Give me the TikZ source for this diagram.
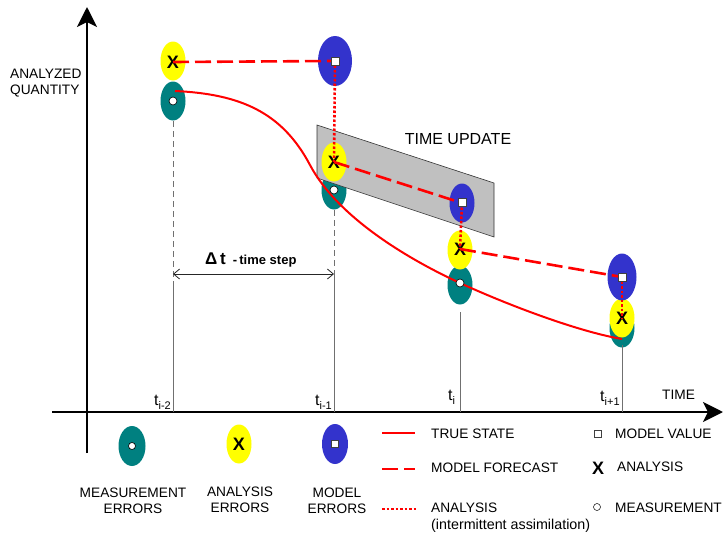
\documentclass[tikz,border=0pt]{standalone}
\usepackage{fontspec}
\setmainfont{Liberation Sans}
\usetikzlibrary{arrows.meta,shapes.geometric}
\definecolor{measteal}{HTML}{008080}
\definecolor{anayellow}{HTML}{FFFF00}
\definecolor{modblue}{HTML}{3333CC}
\definecolor{updgray}{HTML}{C0C0C0}
\definecolor{tickgray}{HTML}{707070}
\begin{document}
\begin{tikzpicture}[x=1pt,y=-1pt,
  every node/.style={inner sep=0pt, font=\fontsize{13.5}{16}\selectfont},
  errell/.style={ellipse, minimum width=25pt, minimum height=39pt, inner sep=0pt},
  measell/.style={errell, fill=measteal},
  anaell/.style={errell, fill=anayellow},
  modell/.style={errell, fill=modblue},
  measdot/.style={circle, draw=black, fill=white, line width=0.6pt, minimum size=8pt},
  modsq/.style={rectangle, draw=black!75, fill=white, line width=0.6pt, minimum size=8pt},
  xmark/.style={font=\fontsize{18}{18}\selectfont\bfseries},
  truestate/.style={red, line width=2pt},
  forecast/.style={red, line width=2.6pt, dash pattern=on 16pt off 6pt},
  assim/.style={red, line width=2.6pt, dash pattern=on 2.5pt off 2pt},
  tickline/.style={tickgray, line width=1pt},
  tickdash/.style={tickline, dash pattern=on 6pt off 4pt},
  axis/.style={black, line width=2.6pt, -{Stealth[length=20pt, width=20pt, inset=5pt]}},
  ticklbl/.style={font=\fontsize{16}{18}\selectfont},
  lbl/.style={font=\fontsize{13.7}{16}\selectfont, text=black}
]
\useasboundingbox (0,0) rectangle (724,533);

% axes
\coordinate (ybot) at (87,453);
\coordinate (ytop) at (87,7);
\coordinate (xleft) at (52,412);
\coordinate (xright) at (723,412);
\draw[axis] (ybot) -- (ytop);
\draw[axis] (xleft) -- (xright);
\node[lbl, anchor=west, align=left] (yl) at (10,83) {ANALYZED\\QUANTITY};
\node[lbl, anchor=west] (xl) at (662,395) {TIME};

% error ellipses along the time axis
\node[measell] (m1) at (173,101) {};
\node[anaell] (a1) at (173,61) {};
\node[measell] (m2) at (334,190) {};

% time update panel
\draw[fill=updgray, draw=black!80, line width=0.6pt]
  (317,125) -- (494,183) -- (494,237) -- (317,178) -- cycle;
\node[font=\fontsize{16}{18}\selectfont] (tu) at (458,139) {TIME UPDATE};

\node[anaell] (a2) at (334,162) {};
\node[modell, minimum width=34pt, minimum height=50pt] (f1) at (335,61) {};
\node[measell] (m3) at (460,285) {};
\node[anaell] (a3) at (460,250) {};
\node[modell] (f2) at (462,203) {};
\node[measell] (m4) at (622,328) {};
\node[anaell] (a4) at (622,318) {};
\node[modell, minimum width=29pt, minimum height=47pt] (f3) at (622,277) {};

% time ticks
\coordinate (t1top) at (173,121);
\coordinate (t1mid) at (173,286);
\coordinate (t1bot) at (173,412);
\coordinate (t2top) at (334,210);
\coordinate (t2mid) at (334,273);
\coordinate (t2bot) at (334,412);
\coordinate (t3top) at (460,312);
\coordinate (t3bot) at (460,412);
\coordinate (t4top) at (622,345);
\coordinate (t4bot) at (622,412);
\draw[tickdash] (t1top) -- (t1mid);
\draw[tickline] (t1mid) -- (t1bot);
\draw[tickdash] (t2top) -- (t2mid);
\draw[tickline] (t2mid) -- (t2bot);
\draw[tickline] (t3top) -- (t3bot);
\draw[tickline] (t4top) -- (t4bot);

\node[ticklbl, anchor=south east] (tl1) at (171,410) {t\raisebox{-4pt}{\fontsize{11}{11}\selectfont i-2}};
\node[ticklbl, anchor=south east] (tl2) at (332,410) {t\raisebox{-4pt}{\fontsize{11}{11}\selectfont i-1}};
\node[ticklbl, anchor=south west] (tl3) at (448,405) {t\raisebox{-4pt}{\fontsize{11}{11}\selectfont i}};
\node[ticklbl, anchor=south west] (tl4) at (600,406) {t\raisebox{-4pt}{\fontsize{11}{11}\selectfont i+1}};

% time step
\coordinate (dtl) at (173,274);
\coordinate (dtr) at (334,274);
\draw[black!85, line width=0.8pt, {Straight Barb[length=6pt, width=10pt]}-{Straight Barb[length=6pt, width=10pt]}] (dtl) -- (dtr);
\node[anchor=base west] (dt) at (205,264) {\fontsize{17}{18}\selectfont\bfseries Δ\,t\hspace{7pt}\fontsize{13}{14}\selectfont -\,time step};

% true state
\draw[truestate] (175,91) .. controls (240,94) and (282,112) .. (310,165)
  .. controls (338,218) and (410,260) .. (460,283)
  .. controls (510,306) and (580,332) .. (622,339);

% analysis markers
\node[xmark] (x1) at (173,62) {X};
\node[xmark] (x2) at (334,162) {X};
\node[xmark] (x3) at (460,249) {X};
\node[xmark] (x4) at (622,318) {X};

% model forecasts and assimilation steps
\draw[forecast] (x1.center) -- (f1.center);
\draw[forecast] (x2.center) -- (f2.center);
\draw[forecast] (x3.center) -- (f3.center);
\draw[assim] (f1.center) -- (x2.center);
\draw[assim] (f2.center) -- (x3.center);
\draw[assim] (f3.center) -- (x4.center);

% model values and measurements
\node[modsq] (s1) at (335,61) {};
\node[modsq] (s2) at (462,202) {};
\node[modsq] (s3) at (622,277) {};
\node[measdot] (c1) at (173,101) {};
\node[measdot] (c2) at (334,190) {};
\node[measdot] (c3) at (460,283) {};

% legend: error ellipses
\node[measell, minimum width=27pt, minimum height=40pt] (lm) at (132,446) {};
\node[measdot, minimum size=7pt] (lmc) at (lm.center) {};
\node[anaell, minimum width=25pt, minimum height=39pt] (la) at (239,444) {};
\node[xmark] (lax) at (la.center) {X};
\node[modell, minimum width=26pt, minimum height=40pt] (lf) at (335,444) {};
\node[modsq, minimum size=7pt] (lfs) at (lf.center) {};
\node[lbl, align=center] (lml) at (133,501) {MEASUREMENT\\ERRORS};
\node[lbl, align=center] (lal) at (240,500) {ANALYSIS\\ERRORS};
\node[lbl, align=center] (lfl) at (337,501) {MODEL\\ERRORS};

% legend: lines
\coordinate (l1a) at (382,433); \coordinate (l1b) at (415,433);
\coordinate (l2a) at (382,469); \coordinate (l2b) at (415,469);
\coordinate (l3a) at (382,509); \coordinate (l3b) at (417,509);
\draw[truestate, line width=2.4pt] (l1a) -- (l1b);
\draw[forecast] (l2a) -- (l2b);
\draw[assim, line width=2.2pt] (l3a) -- (l3b);
\node[lbl, anchor=west] (lt1) at (431,434) {TRUE STATE};
\node[lbl, anchor=west] (lt2) at (431,468) {MODEL FORECAST};
\node[lbl, anchor=west] (lt3) at (431,508) {ANALYSIS};
\node[lbl, anchor=west, font=\fontsize{14.3}{16}\selectfont] (lt4) at (431,526) {(intermittent assimilation)};

% legend: markers
\node[modsq, minimum size=7pt, line width=0.5pt] (ls) at (598,434) {};
\node[xmark] (lx) at (598,468) {X};
\node[measdot, minimum size=7pt, line width=0.5pt] (lc) at (597,507) {};
\node[lbl, anchor=west] (lr1) at (615,434) {MODEL VALUE};
\node[lbl, anchor=west] (lr2) at (617,467) {ANALYSIS};
\node[lbl, anchor=west] (lr3) at (615,508) {MEASUREMENT};
\end{tikzpicture}
\end{document}
